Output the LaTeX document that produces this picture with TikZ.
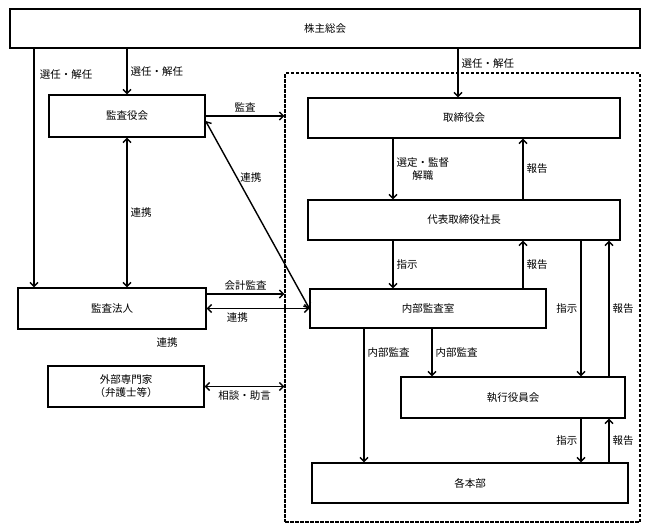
\documentclass[tikz,border=0pt]{standalone}
\usepackage{fontspec}
\setmainfont{Noto Sans CJK JP}
\usepackage{tikz}
\usetikzlibrary{arrows.meta}
\tikzset{box/.style={rectangle,draw,line width=1.3pt,inner sep=0pt,font=\fontsize{10.5}{13}\selectfont},
  dbox/.style={rectangle,draw,dashed,dash pattern=on 3.5pt off 1.5pt,line width=1.1pt,inner sep=0pt},
  lbl/.style={inner sep=3pt,font=\fontsize{10.5}{13}\selectfont},
  con/.style={line width=1.4pt}}

\begin{document}
\begin{tikzpicture}[x=1pt,y=-1pt,>={Straight Barb[length=4pt,width=8pt]}]
    \useasboundingbox (0,0) rectangle (648,531);
    \node[dbox,minimum width=355pt,minimum height=449pt] (kaisha)at (462.5,297.5) {};

    \node[box,minimum width=630pt,minimum height=39pt] (kabu)at (325,28.5) {株主総会};
    \node[box,minimum width=156pt,minimum height=42pt] (kansa)at (127,116) {監査役会};
    \node[box,minimum width=188pt,minimum height=41pt] (houjin)at (112,308.5) {監査法人};
    \node[box,minimum width=156pt,minimum height=41pt,align=center] (gaibu)at (126,386.5) {外部専門家\\（弁護士等）};
    \node[box,minimum width=312pt,minimum height=40pt] (tori)at (464,118) {取締役会};
    \node[box,minimum width=312pt,minimum height=40pt] (shacho)at (464,220) {代表取締役社長};
    \node[box,minimum width=236pt,minimum height=39pt] (naibu)at (428,308.5) {内部監査室};
    \node[box,minimum width=224pt,minimum height=41pt] (shikkou)at (513,397.5) {執行役員会};
    \node[box,minimum width=316pt,minimum height=40pt] (honbu)at (470,483) {各本部};

    % 株主総会から
    \draw [con,->] (kabu.south -| 34,0) to (34,0 |- houjin.north);
    \node[lbl] (l1)at (66,75) {選任・解任};
    \draw [con,->] (kabu.south -| kansa.north) to node[lbl,right]{選任・解任} (kansa.north);
    \draw [con,->] (kabu.south -| 458,0) to node[lbl,right,pos=0.3]{選任・解任} (458,0 |- tori.north);

    % 監査役会・監査法人
    \draw [con,->] (kansa.east) to node[lbl,above]{監査} (kansa.east -| kaisha.west);
    \draw [con,<->] (kansa.south) to node[lbl,right]{連携} (kansa.south |- houjin.north);
    \draw [con,<->] ([yshift=-5pt]kansa.east) to node[lbl,right,pos=0.3]{連携} (naibu.west);
    \draw [con,->] ([yshift=14.5pt]houjin.east) to node[lbl,above]{会計監査} ([yshift=14.5pt]houjin.east -| kaisha.west);
    \draw [con,<->] (houjin.east) to node[lbl,below,pos=0.3]{連携} (naibu.west);
    \node[lbl] (l2)at (167,343) {連携};
    \draw [con,<->] (gaibu.east) to node[lbl,below]{相談・助言} (gaibu.east -| kaisha.west);

    % 社内
    \draw [con,->] (tori.south -| 393,0) to node[lbl,right,align=center]{選定・監督\\解職} (shacho.north -| 393,0);
    \draw [con,->] (shacho.north -| 523,0) to node[lbl,right]{報告} (tori.south -| 523,0);
    \draw [con,->] (shacho.south -| 393,0) to node[lbl,right]{指示} (naibu.north -| 393,0);
    \draw [con,->] (naibu.north -| 523,0) to node[lbl,right]{報告} (shacho.south -| 523,0);
    \draw [con,->] (shacho.south -| 581,0) to node[lbl,left]{指示} (shikkou.north -| 581,0);
    \draw [con,->] (shikkou.north -| 609,0) to node[lbl,right]{報告} (shacho.south -| 609,0);
    \draw [con,->] (naibu.south -| 364,0) to node[lbl,right,pos=0.18]{内部監査} (honbu.north -| 364,0);
    \draw [con,->] (naibu.south -| 432,0) to node[lbl,right]{内部監査} (shikkou.north -| 432,0);
    \draw [con,->] (shikkou.south -| 581,0) to node[lbl,left]{指示} (honbu.north -| 581,0);
    \draw [con,->] (honbu.north -| 609,0) to node[lbl,right]{報告} (shikkou.south -| 609,0);
\end{tikzpicture}
\end{document}
